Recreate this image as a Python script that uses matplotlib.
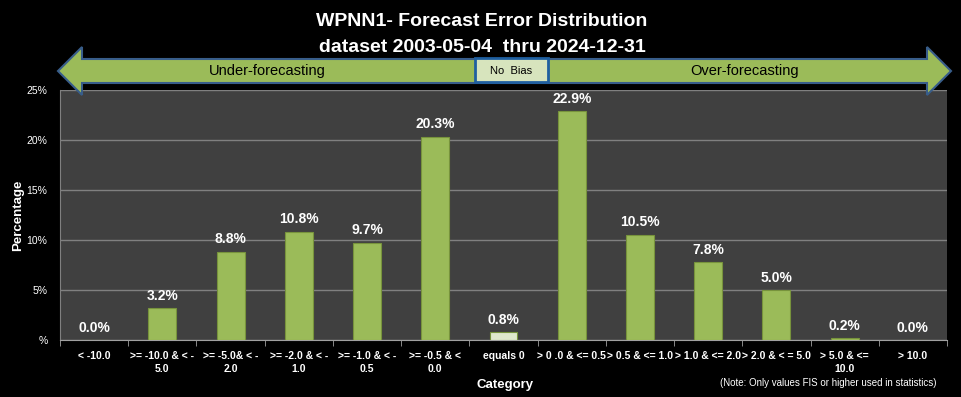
import matplotlib
matplotlib.use('Agg')
from matplotlib import pyplot as plt
from matplotlib.patches import Polygon, Rectangle
import numpy as np

# chart data
categories = ['< -10.0', '>= -10.0 & < -\n5.0', '>= -5.0& < -\n2.0', '>= -2.0 & < -\n1.0',
              '>= -1.0 & < -\n0.5', '>= -0.5 & <\n0.0', 'equals 0', '> 0 .0 & <= 0.5',
              '> 0.5 & <= 1.0', '> 1.0 & <= 2.0', '> 2.0 & < = 5.0', '> 5.0 & <=\n10.0', '> 10.0']
percentages = [0.0, 3.2, 8.8, 10.8, 9.7, 20.3, 0.8, 22.9, 10.5, 7.8, 5.0, 0.2, 0.0]
y_ticks = [0, 5, 10, 15, 20, 25]
y_tick_labels = ['%', '5%', '10%', '15%', '20%', '25%']

plt.rcParams['font.family'] = ['Liberation Sans Narrow', 'Liberation Sans', 'DejaVu Sans']

W, H = 961, 397


def fx(px):
    return px / W


def fy(py):
    return 1 - py / H


fig = plt.figure(figsize=(W / 100, H / 100), dpi=100)
fig.patch.set_facecolor('black')

ax = fig.add_axes([fx(60), fy(340), 887 / W, 250 / H])
ax.set_facecolor('#404040')

x = np.arange(len(categories))
colors = ['#dfe8cc' if c == 'equals 0' else '#9bbb59' for c in categories]
bars = ax.bar(x, percentages, width=0.41, color=colors, edgecolor='#77933c', linewidth=0.8, zorder=3)

# value labels above bars
for xi, val in zip(x, percentages):
    ax.text(xi, val + 0.55, f'{val:.1f}%', ha='center', va='bottom', color='white',
            fontsize=10, fontweight='bold', zorder=4)

ax.set_xlim(-0.5, len(categories) - 0.5)
ax.set_ylim(0, 25)
ax.set_yticks(y_ticks)
ax.set_yticklabels(y_tick_labels)
ax.yaxis.grid(True, color='#808080', linewidth=1, zorder=0)
ax.tick_params(axis='y', length=0, pad=9, labelsize=7.5, labelcolor='white')

ax.set_xticks(x)
ax.set_xticklabels(categories, fontsize=7.5, fontweight='bold', color='white', linespacing=1.4)
ax.set_xticks(np.arange(len(categories) + 1) - 0.5, minor=True)
ax.tick_params(axis='x', which='major', length=0, pad=8)
ax.tick_params(axis='x', which='minor', length=4, color='#a0a0a0')

for side in ['top', 'right']:
    ax.spines[side].set_visible(False)
ax.spines['left'].set_color('#808080')
ax.spines['bottom'].set_color('#a0a0a0')

fig.text(fx(18), fy(215), 'Percentage', color='white', fontsize=9.5, fontweight='bold',
         rotation=90, ha='center', va='center')
fig.text(fx(505), fy(385), 'Category', color='white', fontsize=9.5, fontweight='bold',
         ha='center', va='center')
fig.text(fx(937), fy(383), '(Note: Only values FIS or higher used in statistics)',
         color='white', fontsize=7, ha='right', va='center')

# title
fig.text(fx(482), fy(22), 'WPNN1- Forecast Error Distribution', color='white', fontsize=14,
         fontweight='bold', ha='center', va='center')
fig.text(fx(482), fy(47), 'dataset 2003-05-04  thru 2024-12-31', color='white', fontsize=14,
         fontweight='bold', ha='center', va='center')

# bias arrow across the top
arrow_px = [(58, 71), (82, 47), (82, 59), (927, 59), (927, 47), (951, 71),
            (927, 95), (927, 83), (82, 83), (82, 95)]
arrow = Polygon([(fx(a), fy(b)) for a, b in arrow_px], closed=True, transform=fig.transFigure,
                facecolor='#9bbb59', edgecolor='#385d8a', linewidth=1.5, zorder=5)
fig.patches.append(arrow)
box = Rectangle((fx(475), fy(82)), 73 / W, 24 / H, transform=fig.transFigure,
                facecolor='#d7e4bd', edgecolor='#1f5fa0', linewidth=2, zorder=6)
fig.patches.append(box)
fig.text(fx(511), fy(71), 'No  Bias', color='black', fontsize=8, ha='center', va='center', zorder=7)
fig.text(fx(267), fy(71), 'Under-forecasting', color='black', fontsize=10.5, ha='center',
         va='center', zorder=7)
fig.text(fx(745), fy(71), 'Over-forecasting', color='black', fontsize=10.5, ha='center',
         va='center', zorder=7)

fig.savefig('out.png', dpi=100, facecolor='black')
